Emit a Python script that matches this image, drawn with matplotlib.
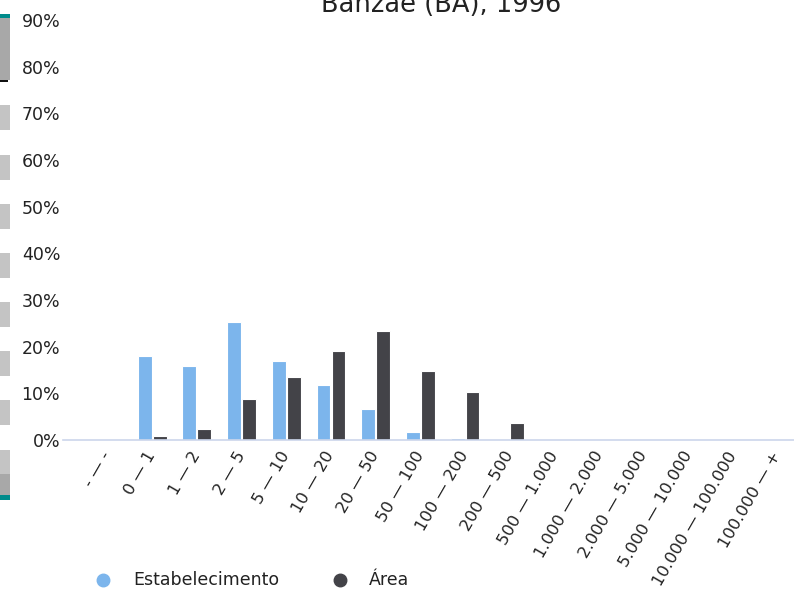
import matplotlib
matplotlib.use("Agg")
import matplotlib.pyplot as plt
from matplotlib.patches import Rectangle
from matplotlib.lines import Line2D
import numpy as np

categories = ["- — -", "0 — 1", "1 — 2", "2 — 5", "5 — 10", "10 — 20", "20 — 50",
              "50 — 100", "100 — 200", "200 — 500", "500 — 1.000", "1.000 — 2.000",
              "2.000 — 5.000", "5.000 — 10.000", "10.000 — 100.000", "100.000 — +"]
estabelecimento = [0, 18.1, 15.9, 25.3, 16.9, 11.7, 6.6, 1.65, 0.4, 0, 0, 0, 0, 0, 0, 0]
area = [0, 0.9, 2.3, 8.8, 13.5, 19.1, 23.3, 14.8, 10.3, 3.6, 0, 0, 0, 0, 0, 0]
yticks = [0, 10, 20, 30, 40, 50, 60, 70, 80, 90]
title = "Banzaê (BA), 1996"
series_names = ["Estabelecimento", "Área"]
colors = ["#7cb5ec", "#434348"]

W, H = 794, 589
fig = plt.figure(figsize=(W / 100, H / 100), dpi=100)

def fx(px):
    return px / W

def fy(py):
    return 1 - py / H

# plot area
left_px, right_px, top_px, bottom_px = 63, 794, 20, 440
ax = fig.add_axes([fx(left_px), fy(bottom_px), fx(right_px - left_px), (bottom_px - top_px) / H])
ax.patch.set_alpha(0)

cat_w = 44.7
x0_units = -(85 - left_px) / cat_w - 0.5
x1_units = x0_units + (right_px - left_px) / cat_w
x = np.arange(len(categories))
bw = 0.31
ax.bar(x - 0.165, estabelecimento, width=bw, color=colors[0], edgecolor="white", linewidth=0.8)
ax.bar(x + 0.17, area, width=bw, color=colors[1], edgecolor="white", linewidth=0.8)
ax.set_xlim(x0_units, x1_units)
ax.set_ylim(0, 90)

for s in ["top", "right", "left"]:
    ax.spines[s].set_visible(False)
ax.spines["bottom"].set_color("#ccd6eb")
ax.spines["bottom"].set_linewidth(1.2)

ax.set_yticks(yticks)
ax.set_yticklabels([f"{v}%" for v in yticks], fontsize=12.5, color="#222222")
ax.tick_params(axis="y", length=0, pad=2)
ax.set_xticks(x)
ax.set_xticklabels(categories, rotation=60, ha="right", va="center", rotation_mode="anchor",
                   fontsize=11.8, color="#222222")
ax.tick_params(axis="x", length=0, pad=9)

fig.text(fx(441), fy(12), title, ha="center", va="baseline", fontsize=18.5, color="#222222")

# legend
leg_y = fy(580)
for i, (name, px_m, px_t) in enumerate(zip(series_names, [103, 340], [133, 369])):
    fig.add_artist(Line2D([fx(px_m)], [leg_y], marker="o", markersize=9,
                          color=colors[i], linestyle="none", transform=fig.transFigure))
    fig.text(fx(px_t), leg_y, name, ha="left", va="center", fontsize=12.5, color="#222222")

# left-side scrollbar artifacts
def rect(y0, y1, color, w=9.5):
    fig.add_artist(Rectangle((0, fy(y1)), fx(w), (y1 - y0) / H, transform=fig.transFigure,
                             facecolor=color, edgecolor="none"))

rect(14, 19, "#008b8b", 10)
rect(18, 80, "#a8a8a8")
rect(80, 82, "#111111", 8)
for y0 in [105, 155, 204, 253, 302, 351, 400]:
    rect(y0, y0 + 25, "#c4c4c4")
rect(450, 474, "#c4c4c4")
rect(474, 495, "#a8a8a8")
rect(495, 500, "#008b8b", 10)

fig.savefig("out.png", dpi=100)
